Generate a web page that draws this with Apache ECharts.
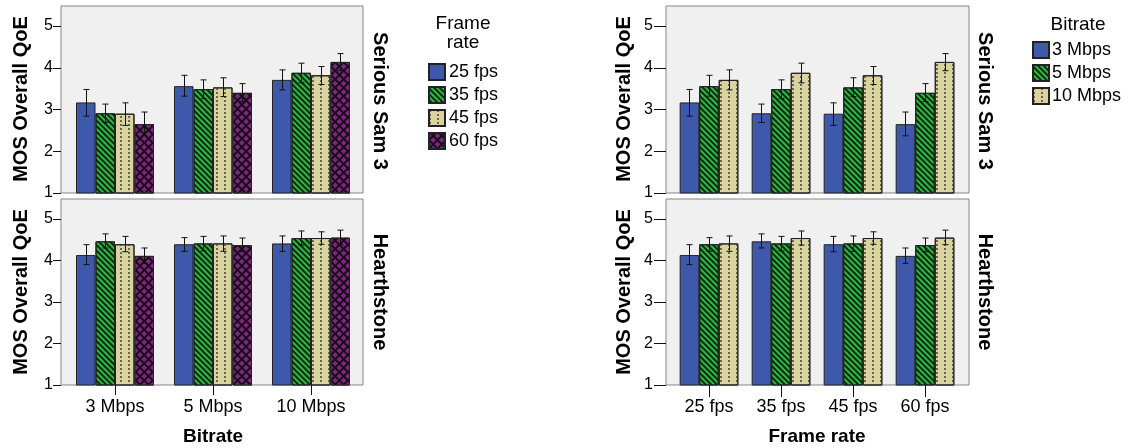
<!DOCTYPE html>
<html>
<head>
<meta charset="utf-8">
<script src="https://cdn.jsdelivr.net/npm/echarts@6/dist/echarts.min.js"></script>
<style>
  html, body { margin: 0; padding: 0; background: #fff; }
  #chart { width: 1128px; height: 448px; }
</style>
</head>
<body>
<div id="chart"></div>
<script>
// ---------- data ----------
const bitrates = ['3 Mbps', '5 Mbps', '10 Mbps'];
const frameRates = ['25 fps', '35 fps', '45 fps', '60 fps'];
const games = ['Serious Sam 3', 'Hearthstone'];
const yTicks = [1, 2, 3, 4, 5];
const yTitle = 'MOS Overall QoE';

// rows = bitrate (3, 5, 10 Mbps), columns = frame rate (25, 35, 45, 60 fps)
const samMean = [[3.17, 2.91, 2.90, 2.65], [3.56, 3.49, 3.53, 3.40], [3.71, 3.88, 3.82, 4.14]];
const samLow  = [[2.84, 2.69, 2.62, 2.37], [3.32, 3.26, 3.31, 3.19], [3.47, 3.64, 3.60, 3.93]];
const samHigh = [[3.48, 3.13, 3.16, 2.94], [3.82, 3.71, 3.76, 3.62], [3.95, 4.11, 4.03, 4.34]];
const hsMean  = [[4.13, 4.46, 4.39, 4.11], [4.39, 4.41, 4.41, 4.37], [4.41, 4.54, 4.54, 4.55]];
const hsLow   = [[3.90, 4.30, 4.21, 3.93], [4.22, 4.23, 4.22, 4.21], [4.22, 4.37, 4.39, 4.38]];
const hsHigh  = [[4.38, 4.64, 4.58, 4.30], [4.55, 4.58, 4.59, 4.54], [4.59, 4.71, 4.69, 4.73]];

// ---------- styles ----------
const FONT = "'Liberation Sans', Arial, sans-serif";
const Y_MIN = 1, Y_MAX = 5.48;

const styles = [
  { color: '#3e58ac', decal: null },
  { color: '#2eb848', decal: { symbol: 'rect', symbolSize: 1, dashArrayX: [1, 0], dashArrayY: [1.6, 2.0], rotation: Math.PI / 4, color: '#0a2a0a' } },
  { color: '#d9d49e', decal: { symbol: 'rect', symbolSize: 1, dashArrayX: [1.2, 5.5], dashArrayY: [1.5, 1.5], rotation: 0, color: '#6a6650' } },
  { color: '#1c0a1d', decal: { symbol: 'rect', symbolSize: 1, dashArrayX: [3.6, 1.2], dashArrayY: [3.6, 1.2], rotation: Math.PI / 4, color: '#7c287d' } }
];

const grids = [], xAxes = [], yAxes = [], series = [];

function addPanel(cfg) {
  // frame grid (background + y axis)
  const fi = grids.length;
  grids.push({ left: cfg.fx0, top: cfg.y0, width: cfg.fx1 - cfg.fx0, height: cfg.y1 - cfg.y0,
    show: true, backgroundColor: '#f0f0f0', borderColor: '#858585', borderWidth: 1, containLabel: false });
  xAxes.push({ gridIndex: fi, type: 'value', show: false, min: 0, max: 1 });
  yAxes.push({ gridIndex: fi, type: 'value', min: Y_MIN, max: Y_MAX, interval: 1,
    axisLine: { show: false }, splitLine: { show: false },
    axisTick: { show: true, length: cfg.yTickLen, customValues: yTicks, lineStyle: { color: '#111', width: 1 } },
    axisLabel: { customValues: yTicks, fontSize: 16, color: '#000', fontFamily: FONT, margin: cfg.yLabelMargin } });
  // data grid
  const di = grids.length;
  grids.push({ left: cfg.dx0, top: cfg.y0, width: cfg.dx1 - cfg.dx0, height: cfg.y1 - cfg.y0, show: false, containLabel: false });
  xAxes.push({ gridIndex: di, type: 'category', data: cfg.cats,
    axisLine: { show: false }, splitLine: { show: false },
    axisTick: { show: cfg.showX, alignWithLabel: true, length: cfg.xTickLen, lineStyle: { color: '#111', width: 1 } },
    axisLabel: { show: cfg.showX, fontSize: 18, color: '#000', fontFamily: FONT, margin: 13 } });
  yAxes.push({ gridIndex: di, type: 'value', min: Y_MIN, max: Y_MAX, show: false, splitLine: { show: false } });

  const n = cfg.names.length;
  cfg.names.forEach((name, si) => {
    const st = styles[si];
    series.push({
      type: 'bar', name: name, xAxisIndex: di, yAxisIndex: di,
      data: cfg.mean[si], barGap: '0%', barCategoryGap: cfg.gap * 100 + '%',
      itemStyle: Object.assign({ color: st.color, borderColor: '#222', borderWidth: 1 }, st.decal ? { decal: st.decal } : {}),
      emphasis: { disabled: true }, z: 2
    });
    const errData = cfg.mean[si].map((_, ci) => [ci, cfg.low[si][ci], cfg.high[si][ci]]);
    series.push({
      type: 'custom', xAxisIndex: di, yAxisIndex: di, z: 4, silent: true,
      data: errData,
      encode: { x: 0, y: [1, 2] },
      renderItem: function (params, api) {
        const ci = api.value(0);
        const pLo = api.coord([ci, api.value(1)]);
        const pHi = api.coord([ci, api.value(2)]);
        const band = api.size([1, 0])[0];
        const groupW = band * (1 - cfg.gap);
        const w = groupW / n;
        const x = Math.round(pLo[0] - groupW / 2 + w * (si + 0.5)) + 0.5;
        const cap = 3;
        const ls = { stroke: '#111', lineWidth: 1 };
        return { type: 'group', children: [
          { type: 'line', shape: { x1: x, y1: pLo[1], x2: x, y2: pHi[1] }, style: ls },
          { type: 'line', shape: { x1: x - cap, y1: pHi[1], x2: x + cap, y2: pHi[1] }, style: ls },
          { type: 'line', shape: { x1: x - cap, y1: pLo[1], x2: x + cap, y2: pLo[1] }, style: ls }
        ] };
      }
    });
  });
}

function transpose(m) { return m[0].map((_, j) => m.map(r => r[j])); }

// Left chart: x = bitrate, series = frame rate
const L = { fx0: 61, fx1: 363, dx0: 66, dx1: 360, yTickLen: 8, yLabelMargin: 8, xTickLen: 10, gap: 0.204 };
const R = { fx0: 666, fx1: 969, dx0: 673, dx1: 961, yTickLen: 12, yLabelMargin: 13, xTickLen: 12, gap: 0.185 };
const TOP = { y0: 6, y1: 193 }, BOT = { y0: 199, y1: 385 };

addPanel(Object.assign({}, L, TOP, { cats: bitrates, names: frameRates, showX: false,
  mean: transpose(samMean), low: transpose(samLow), high: transpose(samHigh) }));
addPanel(Object.assign({}, L, BOT, { cats: bitrates, names: frameRates, showX: true,
  mean: transpose(hsMean), low: transpose(hsLow), high: transpose(hsHigh) }));
// Right chart: x = frame rate, series = bitrate
addPanel(Object.assign({}, R, TOP, { cats: frameRates, names: bitrates, showX: false,
  mean: samMean, low: samLow, high: samHigh }));
addPanel(Object.assign({}, R, BOT, { cats: frameRates, names: bitrates, showX: true,
  mean: hsMean, low: hsLow, high: hsHigh }));

function txt(text, x, y, size, bold, rot) {
  return { type: 'text', x: x, y: y, rotation: rot || 0, silent: true, z: 10,
    style: { text: text, fill: '#000', font: (bold ? 'bold ' : '') + size + 'px ' + FONT,
      align: 'center', verticalAlign: 'middle' } };
}

const graphics = [
  txt(yTitle, 21, 99, 20, true, Math.PI / 2),
  txt(yTitle, 21, 292, 20, true, Math.PI / 2),
  txt(yTitle, 624, 99, 20, true, Math.PI / 2),
  txt(yTitle, 624, 292, 20, true, Math.PI / 2),
  txt(games[0], 380, 101, 20, true, -Math.PI / 2),
  txt(games[1], 380, 292, 20, true, -Math.PI / 2),
  txt(games[0], 985, 101, 20, true, -Math.PI / 2),
  txt(games[1], 985, 292, 20, true, -Math.PI / 2),
  txt('Bitrate', 213, 437, 19, true),
  txt('Frame rate', 817, 437, 19, true),
  txt('Frame', 463, 24, 19, false),
  txt('rate', 463, 43, 19, false),
  txt('Bitrate', 1078, 25, 19, false)
];

const chart = echarts.init(document.getElementById('chart'), null, { renderer: 'canvas' });
chart.setOption({
  animation: false,
  backgroundColor: '#ffffff',
  grid: grids,
  xAxis: xAxes,
  yAxis: yAxes,
  legend: [
    { data: frameRates, orient: 'vertical', left: 428, top: 63, padding: 0, itemWidth: 16, itemHeight: 16, itemGap: 5,
      icon: 'rect', selectedMode: false, textStyle: { fontSize: 18, color: '#000', fontFamily: FONT, padding: [0, 0, 0, -1] } },
    { data: bitrates, orient: 'vertical', left: 1032, top: 41, padding: 0, itemWidth: 16, itemHeight: 16, itemGap: 5,
      icon: 'rect', selectedMode: false, textStyle: { fontSize: 18, color: '#000', fontFamily: FONT, padding: [0, 0, 0, -2] } }
  ],
  graphic: graphics,
  series: series
});
</script>
</body>
</html>
